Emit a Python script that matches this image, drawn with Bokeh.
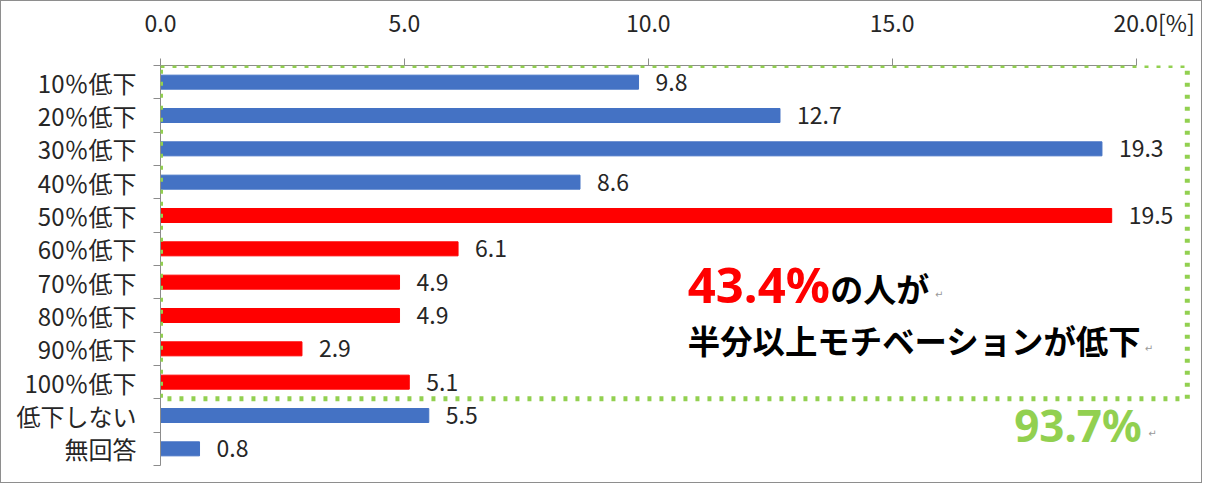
from bokeh.plotting import figure
from bokeh.models import ColumnDataSource, Range1d, FixedTicker, Label, BoxAnnotation
from bokeh.core.properties import value
from bokeh.embed import file_html
from bokeh.resources import INLINE

# ---- data ----
categories = ["10％低下", "20％低下", "30％低下", "40％低下", "50％低下", "60％低下",
              "70％低下", "80％低下", "90％低下", "100％低下", "低下しない", "無回答"]
values = [9.8, 12.7, 19.3, 8.6, 19.5, 6.1, 4.9, 4.9, 2.9, 5.1, 5.5, 0.8]
groups = ["blue", "blue", "blue", "blue", "red", "red", "red", "red", "red", "red", "blue", "blue"]
x_ticks = [0, 5, 10, 15, 20]
x_tick_labels = ["0.0", "5.0", "10.0", "15.0", "20.0"]
unit_label = "[%]"
note_pct = "43.4%"
note_line1 = "の人が"
note_line2 = "半分以上モチベーションが低下"
total_pct = "93.7%"

# ---- styles ----
BLUE = "#4472C4"
RED = "#FF0000"
GREEN = "#92D050"
TEXT = "#262626"
AXIS = "#8c8c8c"
FONT = "Noto Sans CJK JP"

n = len(categories)
centers = [i + 0.5 for i in range(n)]
colors = [BLUE if g == "blue" else RED for g in groups]

src = ColumnDataSource(dict(y=centers, v=values, c=colors,
                            lab=[f"{v:.1f}" for v in values]))

p = figure(width=1202, height=483, output_backend="svg", toolbar_location=None,
           x_range=Range1d(0, 21.3), y_range=Range1d(n, 0),
           x_axis_location="above", min_border_left=159, min_border_right=4,
           min_border_top=62, min_border_bottom=19)
p.outline_line_color = None
p.grid.grid_line_color = None
p.styles = {"border": "1px solid #8e8e8e"}

p.hbar(y="y", right="v", left=0, height=0.42, color="c", source=src)
p.text(x="v", y="y", text="lab", source=src, x_offset=17, text_baseline="middle",
       text_align="left", text_font=value(FONT), text_font_size="23px", text_color=TEXT)

# x axis (top); the unit mark follows the last tick label, padded so "20.0" stays centred
pad = "\u00a0" * 7
labels_top = list(x_tick_labels)
labels_top[-1] = pad + labels_top[-1] + unit_label
xa = p.xaxis[0]
xa.ticker = FixedTicker(ticks=x_ticks)
xa.major_label_overrides = {t: l for t, l in zip(x_ticks, labels_top)}
xa.bounds = (0, 20)
xa.axis_line_color = AXIS
xa.major_tick_line_color = AXIS
xa.major_tick_in = 0
xa.major_tick_out = 7
xa.minor_tick_line_color = None
xa.major_label_standoff = 20
xa.major_label_text_font = FONT
xa.major_label_text_font_size = "23px"
xa.major_label_text_color = TEXT

# y axis
ya = p.yaxis[0]
ya.ticker = FixedTicker(ticks=centers, minor_ticks=list(range(n + 1)))
ya.major_label_overrides = {c: l for c, l in zip(centers, categories)}
ya.axis_line_color = AXIS
ya.major_tick_line_color = None
ya.major_tick_in = 0
ya.major_tick_out = 0
ya.minor_tick_line_color = AXIS
ya.minor_tick_in = 0
ya.minor_tick_out = 7
ya.major_label_standoff = 17
ya.major_label_text_font = FONT
ya.major_label_text_font_size = "24px"
ya.major_label_text_color = TEXT

# green dotted frame around the "decreased" rows
p.add_layout(BoxAnnotation(left=0, right=21.05, top=0, bottom=10, fill_alpha=0,
                           line_color=GREEN, line_alpha=1.0, line_width=5,
                           line_dash="4 8"))

# annotation texts
p.add_layout(Label(x=10.81, y=6.55, text=note_pct, text_baseline="middle",
                   text_font="Noto Sans", text_font_style="bold", text_font_size="49px",
                   text_color=RED))
p.add_layout(Label(x=13.73, y=6.66, text=note_line1, text_baseline="middle",
                   text_font=FONT, text_font_style="bold", text_font_size="33px",
                   text_color="#000000"))
p.add_layout(Label(x=10.81, y=8.22, text=note_line2, text_baseline="middle",
                   text_font=FONT, text_font_style="bold", text_font_size="32.4px",
                   text_color="#000000"))
p.add_layout(Label(x=17.50, y=10.78, text=total_pct, text_baseline="middle",
                   text_font="Noto Sans", text_font_style="bold", text_font_size="44px",
                   text_color=GREEN))
for (lx, ly) in [(15.88, 6.86), (20.18, 8.5), (20.25, 11.05)]:
    p.add_layout(Label(x=lx, y=ly, text="↵", text_baseline="middle",
                       text_font="DejaVu Sans", text_font_size="10px",
                       text_color="#999999"))

open("out.html", "w").write(file_html(p, INLINE))
